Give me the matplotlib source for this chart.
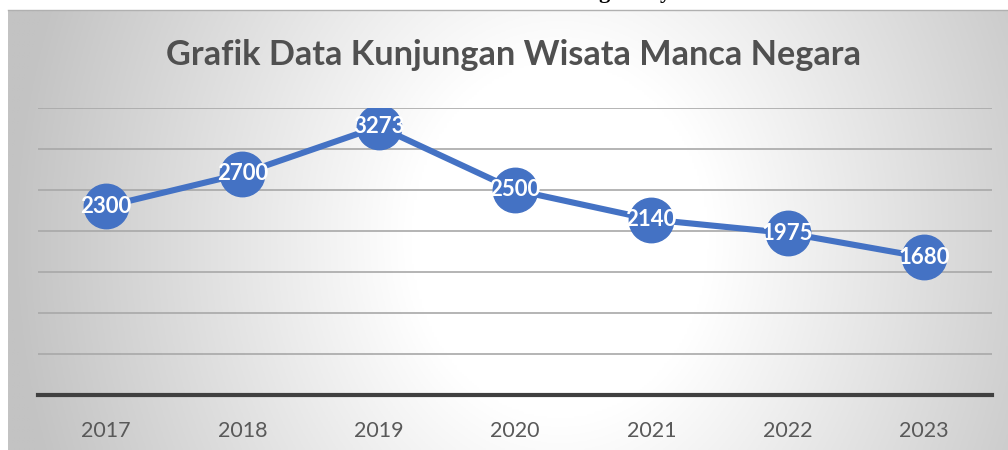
import matplotlib
matplotlib.use("Agg")
import matplotlib.pyplot as plt
import numpy as np

# Data
years = ["2017", "2018", "2019", "2020", "2021", "2022", "2023"]
visitors = [2300, 2700, 3273, 2500, 2140, 1975, 1680]

W, H = 1008, 450
fig = plt.figure(figsize=(W / 100, H / 100), dpi=100)
fig.patch.set_facecolor("white")

# radial gradient background of the chart area (x 8..1008, y 10..450 in px)
bg = fig.add_axes([8 / W, 0, 1 - 8 / W, 1 - 10 / H])
xx, yy = np.meshgrid(np.linspace(8, W, 400), np.linspace(10, H, 200))
u = (xx - 560) / 500
v = (yy - 240) / 600
r = np.sqrt(u ** 2 + v ** 2)
g = (255 - 60 * np.clip((r - 0.3) / 0.8, 0, 1)) / 255
bg.imshow(np.dstack([g, g, g]), aspect="auto", extent=[0, 1, 0, 1], origin="upper")
bg.axis("off")
# thin frame line at the top of the chart box
fig.add_artist(plt.Line2D([8 / W, 1], [1 - 10 / H, 1 - 10 / H], color="#b0b0b0", lw=1))

# descenders of the cut-off heading above the chart
fig.text(604 / W, 1.004, "g", fontsize=16, fontweight="bold", family="Liberation Serif",
         ha="center", va="baseline")
fig.text(665 / W, 1.004, "y", fontsize=16, fontweight="bold", family="Liberation Serif",
         ha="center", va="baseline")

ax = fig.add_axes([38 / W, (H - 395) / H, (992 - 38) / W, (395 - 108) / H])
ax.patch.set_alpha(0)
x = np.arange(len(years))
ax.plot(x, visitors, color="#4472C4", lw=4.4, marker="o", markersize=32,
        markerfacecolor="#4472C4", markeredgecolor="#4472C4", zorder=3)
for xi, val in zip(x, visitors):
    ax.text(xi, val, str(val), color="white", fontsize=16, fontweight="bold",
            family="Lato", ha="center", va="center", zorder=4)

ax.set_xlim(-0.5, len(years) - 0.5)
ax.set_ylim(0, 3500)
ax.set_yticks(np.arange(0, 3501, 500))
ax.set_yticklabels([])
ax.tick_params(axis="y", length=0)
ax.grid(axis="y", color="#a8a8a8", lw=1.2)
ax.set_axisbelow(True)
ax.set_xticks(x)
ax.set_xticklabels(years, fontsize=15.5, color="#595959", family="Lato")
ax.tick_params(axis="x", length=0, pad=19)
for s in ["top", "right", "left"]:
    ax.spines[s].set_visible(False)
ax.spines["bottom"].set_color("#404040")
ax.spines["bottom"].set_linewidth(3)

fig.text(514 / W, 1 - 55 / H, "Grafik Data Kunjungan Wisata Manca Negara",
         fontsize=24.7, fontweight="bold", color="#505050", family="Lato",
         ha="center", va="center")

fig.savefig("out.png", dpi=100)
